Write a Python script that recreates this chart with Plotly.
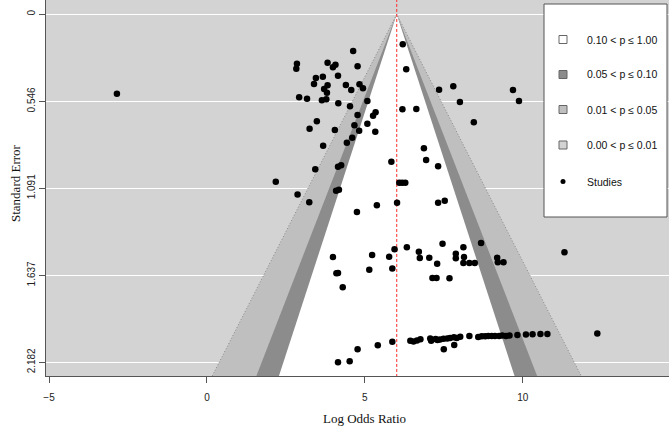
import plotly.graph_objects as go
from statistics import NormalDist

# ---------------- data ----------------
log_odds_ratio = [
    6.20, 4.63, 2.85, 2.83, 3.82, 4.07, 3.99, 4.77, 6.31, 4.15,
    3.67, 3.45, 3.39, 3.82, 4.40, 4.83, 4.94, 3.71, 3.80, 4.57,
    7.35, 7.80, 2.92, 3.17, 3.64, 3.78, 4.16, 5.08, 8.01, 4.53,
    6.19, 6.63, 5.34, 5.26, 4.77, 3.48, 5.08, 4.67, 3.25, 4.05,
    4.82, 5.33, 8.45, 4.60, 4.43, 3.68, 6.87, 6.94, 7.32, 5.84,
    3.43, 4.15, 4.25, 2.18, 6.09, 6.18, 6.28, 4.09, 4.18,
    -2.85, 9.69, 9.88,
    2.87, 3.24, 5.38, 6.02, 4.75, 7.32, 7.53, 7.46, 8.68, 5.94,
    6.33, 6.71, 6.74, 7.04, 8.12, 7.88, 7.88, 8.14, 8.12, 8.31,
    8.48, 9.19, 9.21, 9.39, 7.29, 3.99, 5.23, 5.77, 5.14, 5.87,
    4.10, 4.15, 7.14, 7.27, 7.68, 4.30, 11.32,
    4.15, 4.52, 4.77, 5.41, 5.87, 6.44, 6.54, 6.65, 6.76, 7.07,
    7.10, 7.24, 7.30, 7.38, 7.49, 7.61, 7.70, 7.82, 7.91, 8.02,
    7.50, 7.83, 8.31, 8.59, 8.70, 8.81, 8.91, 9.02, 9.12, 9.25,
    9.35, 9.47, 9.58, 9.83, 10.10, 10.31, 10.56, 10.78, 12.36,
]
standard_error = [
    0.188, 0.230, 0.310, 0.341, 0.303, 0.316, 0.332, 0.326, 0.345, 0.385,
    0.391, 0.399, 0.437, 0.445, 0.443, 0.439, 0.464, 0.468, 0.492, 0.475,
    0.473, 0.451, 0.520, 0.529, 0.539, 0.533, 0.558, 0.544, 0.550, 0.577,
    0.596, 0.594, 0.614, 0.636, 0.631, 0.671, 0.686, 0.696, 0.717, 0.725,
    0.730, 0.736, 0.677, 0.774, 0.805, 0.824, 0.840, 0.913, 0.953, 0.924,
    0.972, 0.955, 0.947, 1.050, 1.056, 1.056, 1.056, 1.106, 1.100,
    0.498, 0.475, 0.544,
    1.129, 1.179, 1.197, 1.181, 1.240, 1.181, 1.169, 1.438, 1.434, 1.473,
    1.461, 1.488, 1.528, 1.526, 1.461, 1.501, 1.530, 1.522, 1.559, 1.559,
    1.559, 1.526, 1.555, 1.555, 1.564, 1.522, 1.509, 1.520, 1.601, 1.593,
    1.624, 1.622, 1.653, 1.653, 1.655, 1.712, 1.492,
    2.182, 2.176, 2.100, 2.075, 2.053, 2.046, 2.051, 2.045, 2.037, 2.033,
    2.046, 2.036, 2.042, 2.039, 2.034, 2.033, 2.029, 2.025, 2.029, 2.021,
    2.100, 2.073, 2.017, 2.023, 2.019, 2.019, 2.017, 2.017, 2.017, 2.017,
    2.013, 2.017, 2.013, 2.011, 2.008, 2.006, 2.004, 2.004, 2.001,
]
pooled_estimate = 6.01
contour_levels = [0.10, 0.05, 0.01]
contour_colors = ["white", "#8c8c8c", "#bfbfbf"]
background_color = "#d3d3d3"
legend_labels = ["0.10 < p \u2264 1.00", "0.05 < p \u2264 0.10",
                 "0.01 < p \u2264 0.05", "0.00 < p \u2264 0.01", "Studies"]
legend_colors = ["white", "#8c8c8c", "#bfbfbf", "#d3d3d3"]
x_tick_values = [-5, 0, 5, 10]
y_tick_values = [0, 0.546, 1.091, 1.637, 2.182]
y_tick_text = ["0", "0.546", "1.091", "1.637", "2.182"]
x_range = [-5.095, 14.63]
y_range = [2.2677, -0.0897]
x_title = "Log Odds Ratio"
y_title = "Standard Error"

# ---------------- layout geometry ----------------
W, H = 669, 429
ML, MR, MT, MB = 46, 0, 0, 53
PW, PH = W - ML - MR, H - MT - MB


def px(xp):
    return (xp - ML) / PW


def py(yp):
    return 1 - (yp - MT) / PH


fig = go.Figure()

# contour regions (widest first)
se_bottom = y_range[0] + 0.05
for level, color in sorted(zip(contour_levels, contour_colors)):
    z = NormalDist().inv_cdf(1 - level / 2)
    fig.add_trace(go.Scatter(
        x=[pooled_estimate - z * se_bottom, pooled_estimate,
           pooled_estimate + z * se_bottom, pooled_estimate - z * se_bottom],
        y=[se_bottom, 0, se_bottom, se_bottom],
        mode="lines", fill="toself", fillcolor=color,
        line=dict(width=0), hoverinfo="skip", showlegend=False))

# dotted outline of the outermost contour
z_out = NormalDist().inv_cdf(1 - min(contour_levels) / 2)
fig.add_trace(go.Scatter(
    x=[pooled_estimate - z_out * se_bottom, pooled_estimate,
       pooled_estimate + z_out * se_bottom],
    y=[se_bottom, 0, se_bottom],
    mode="lines", line=dict(color="#8a8a8a", width=1, dash="1px,2px"),
    hoverinfo="skip", showlegend=False))

# reference line
fig.add_trace(go.Scatter(
    x=[pooled_estimate, pooled_estimate], y=[y_range[0] + 0.1, y_range[1] - 0.1],
    mode="lines", line=dict(color="#ff2a2a", width=1, dash="3px,2px"),
    hoverinfo="skip", showlegend=False))

# studies
fig.add_trace(go.Scatter(
    x=log_odds_ratio, y=standard_error, mode="markers",
    marker=dict(color="black", size=6.5, line=dict(width=0)),
    showlegend=False))

# ---------------- legend (drawn manually) ----------------
shapes = [dict(type="rect", xref="paper", yref="paper",
               x0=px(544), x1=px(667), y0=py(217), y1=py(4),
               fillcolor="white", line=dict(color="#555555", width=1),
               layer="above")]
annotations = []
row_y = [39.5, 74.5, 109.5, 145, 181.5]
for i, label in enumerate(legend_labels):
    yc = row_y[i]
    if i < len(legend_colors):
        shapes.append(dict(type="rect", xref="paper", yref="paper",
                           x0=px(559), x1=px(567), y0=py(yc + 4), y1=py(yc - 4),
                           fillcolor=legend_colors[i],
                           line=dict(color="#666666", width=1), layer="above"))
    else:
        shapes.append(dict(type="circle", xref="paper", yref="paper",
                           x0=px(560.5), x1=px(565.5), y0=py(yc + 2.5), y1=py(yc - 2.5),
                           fillcolor="black", line=dict(color="black", width=0),
                           layer="above"))
    annotations.append(dict(xref="paper", yref="paper", x=px(584.5), y=py(yc),
                            text=label, showarrow=False, xanchor="left",
                            yanchor="middle",
                            font=dict(family="Liberation Sans, Arial", size=10.5,
                                      color="#111111")))

# axis titles
annotations.append(dict(xref="paper", yref="paper", x=px(364), y=py(418),
                        text=x_title, showarrow=False, xanchor="center",
                        yanchor="middle",
                        font=dict(family="Liberation Serif, Times New Roman",
                                  size=13, color="#111111")))
annotations.append(dict(xref="paper", yref="paper", x=px(15), y=py(183),
                        text=y_title, showarrow=False, textangle=-90,
                        xanchor="center", yanchor="middle",
                        font=dict(family="Liberation Serif, Times New Roman",
                                  size=13, color="#111111")))

fig.update_layout(
    width=W, height=H,
    margin=dict(l=ML, r=MR, t=MT, b=MB),
    paper_bgcolor="white", plot_bgcolor=background_color,
    shapes=shapes, annotations=annotations,
    showlegend=False,
    xaxis=dict(range=x_range, tickvals=x_tick_values, showgrid=False,
               zeroline=False, showline=True, linecolor="#555555", linewidth=1,
               ticks="outside", ticklen=6, tickcolor="#555555",
               ticklabelstandoff=6,
               tickfont=dict(family="Liberation Sans, Arial", size=10,
                             color="#222222")),
    yaxis=dict(range=y_range, tickvals=y_tick_values, ticktext=y_tick_text,
               showgrid=True, gridcolor="white", gridwidth=1,
               zeroline=False, showline=True, linecolor="#555555", linewidth=1,
               ticks="outside", ticklen=6, tickcolor="#555555", tickangle=-90,
               tickfont=dict(family="Liberation Sans, Arial", size=10,
                             color="#222222")),
)

fig.write_html("out.html")
